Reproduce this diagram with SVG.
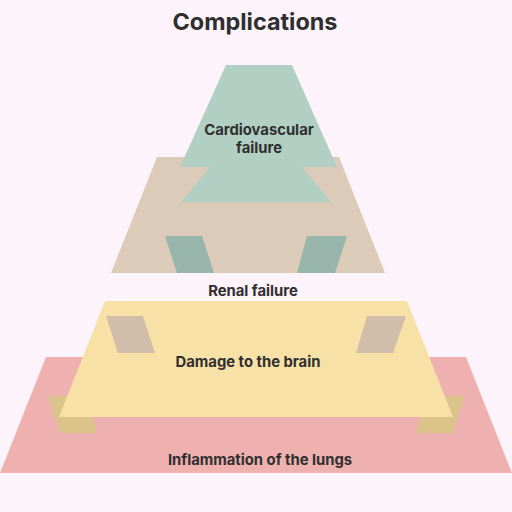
<svg xmlns="http://www.w3.org/2000/svg" width="512" height="512" viewBox="0 0 512 512">
<style>
text{font-family:Inter,"Liberation Sans",sans-serif;font-weight:700;fill:#2f2f2f;text-anchor:middle}
.lbl{font-size:14.8px}
.title{font-size:23.4px}
</style>
<rect width="512" height="512" fill="#fdf3fa"/>
<text class="title" x="255" y="30">Complications</text>
<g id="lungs">
<polygon points="46,357 466,357 512,473 0,473" fill="#efb0b0"/>
<polygon points="48,396 85,396 97,433 60,433" fill="#dbc489"/>
<polygon points="428,396 465,396 452,433 416,433" fill="#dbc489"/>
<text class="lbl" x="260" y="465">Inflammation of the lungs</text>
</g>
<g id="brain">
<polygon points="105,301 407,301 453,417 59,417" fill="#f8e1a7"/>
<polygon points="106,316 143,316 155,353 118,353" fill="#d1bdaa"/>
<polygon points="367,316 406,316 393,353 356,353" fill="#d1bdaa"/>
<text class="lbl" x="248" y="367">Damage to the brain</text>
</g>
<g id="renal">
<polygon points="157,157 339,157 385,273 111,273" fill="#ddcbb9"/>
<polygon points="165,236 202,236 214,273 177,273" fill="#97b5ab"/>
<polygon points="307,236 347,236 335,273 297,273" fill="#97b5ab"/>
<text class="lbl" x="253" y="296">Renal failure</text>
</g>
<g id="cardio">
<polygon points="226,65 292,65 337,167 302,167 331,202 181,202 210,167 180,167" fill="#b2cfc3"/>
<text class="lbl" x="259" y="135">Cardiovascular</text>
<text class="lbl" x="259" y="153">failure</text>
</g>
<g id="connectors"/>
</svg>
